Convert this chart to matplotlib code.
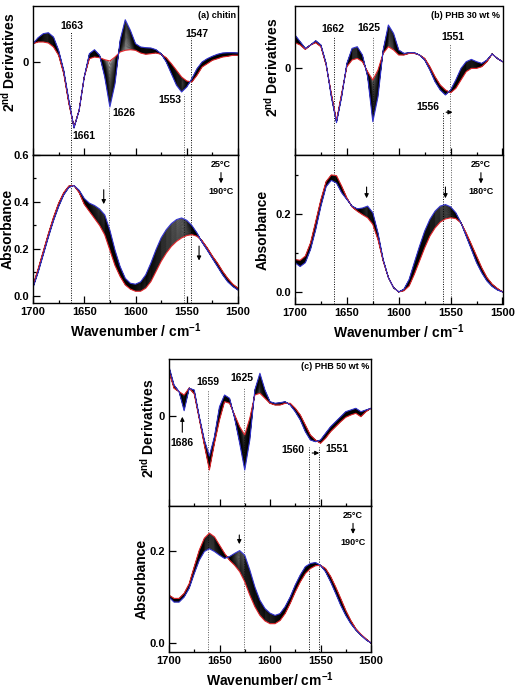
import numpy as np
import matplotlib
matplotlib.use("Agg")
import matplotlib.pyplot as plt
from matplotlib.ticker import MultipleLocator, FixedLocator

plt.rcParams['font.family'] = ['Liberation Sans', 'DejaVu Sans']
plt.rcParams['font.weight'] = 'bold'
plt.rcParams['axes.labelweight'] = 'bold'
plt.rcParams['mathtext.fontset'] = 'custom'
plt.rcParams['mathtext.rm'] = 'Liberation Sans:bold'
plt.rcParams['mathtext.bf'] = 'Liberation Sans:bold'
plt.rcParams['mathtext.it'] = 'Liberation Sans:bold'

# ---------------- data ----------------
WN = list(range(1700, 1499, -5))  # wavenumber grid (cm-1)

TEMPS_A = list(range(25, 195, 5))
TEMPS_B = list(range(25, 185, 5))
TEMPS_C = list(range(25, 195, 5))

# (a) chitin - second derivative (arb. units), 25 C (blue) and 190 C (red)
deriv_a_first = [1.83, 2.43, 2.83, 2.93, 2.5, 1.17, -0.83, -3.83, -6.6, -4.83, -1.5, 0.83, 1.23, 0.67,
                 -1.5, -4.5, -2.17, 2.17, 4.23, 3.17, 1.83, 1.5, 1.43, 1.4, 1.23, 0.83, 0.0, -1.17,
                 -2.33, -3.0, -2.5, -1.67, -0.67, 0.0, 0.33, 0.57, 0.77, 0.9, 0.93, 0.93, 0.9]
deriv_a_last = [1.83, 2.0, 2.0, 1.9, 1.5, 0.67, -1.17, -4.17, -6.5, -4.83, -1.5, 0.33, 0.5, 0.43,
                0.23, 0.1, 0.5, 1.0, 1.17, 1.23, 1.17, 0.9, 0.77, 0.83, 0.9, 0.77, 0.43, -0.17,
                -0.83, -1.5, -1.9, -2.0, -1.33, -0.5, -0.17, 0.17, 0.33, 0.5, 0.57, 0.67, 0.67]
# (a) chitin - absorbance
abs_a_first = [0.035, 0.10, 0.175, 0.25, 0.32, 0.38, 0.43, 0.462, 0.47, 0.45, 0.415, 0.395, 0.385,
               0.37, 0.345, 0.28, 0.195, 0.125, 0.075, 0.054, 0.05, 0.06, 0.09, 0.14, 0.197, 0.247,
               0.282, 0.308, 0.325, 0.332, 0.322, 0.30, 0.268, 0.228, 0.195, 0.16, 0.125, 0.09,
               0.06, 0.04, 0.025]
abs_a_last = [0.045, 0.115, 0.19, 0.265, 0.335, 0.395, 0.44, 0.468, 0.47, 0.44, 0.39, 0.36, 0.33,
              0.30, 0.26, 0.195, 0.13, 0.083, 0.047, 0.029, 0.02, 0.02, 0.033, 0.061, 0.104, 0.147,
              0.182, 0.211, 0.232, 0.247, 0.257, 0.261, 0.254, 0.235, 0.205, 0.17, 0.14, 0.105,
              0.075, 0.05, 0.033]

# (b) PHB 30 wt% - second derivative, 25 C and 180 C
deriv_b_first = [3.27, 2.6, 1.93, 2.27, 2.7, 2.27, 0.43, -2.9, -5.5, -2.9, 0.43, 1.93, 2.1, 1.27,
                 -0.9, -5.4, -2.9, 1.77, 4.27, 3.43, 1.77, 1.43, 1.5, 1.5, 1.27, 0.77, -0.23, -1.4,
                 -2.23, -2.73, -2.23, -1.23, -0.07, 0.6, 0.83, 0.6, 0.43, 0.77, 1.37, 0.93, 0.6]
deriv_b_last = [2.5, 2.27, 1.83, 2.27, 2.5, 2.1, 0.27, -2.57, -5.3, -2.57, 0.1, 0.77, 0.93, 0.6,
                -0.4, -1.23, -0.23, 1.43, 2.1, 1.77, 1.27, 1.27, 1.43, 1.43, 1.27, 0.93, 0.1, -0.9,
                -1.73, -2.23, -2.5, -2.07, -1.23, -0.4, -0.07, -0.07, 0.1, 0.6, 1.37, 0.93, 0.6]
# (b) absorbance
abs_b_first = [0.075, 0.065, 0.075, 0.109, 0.16, 0.22, 0.27, 0.286, 0.279, 0.254, 0.237, 0.22,
               0.213, 0.215, 0.22, 0.203, 0.151, 0.083, 0.037, 0.011, 0.0, 0.007, 0.032, 0.075,
               0.117, 0.156, 0.186, 0.207, 0.22, 0.224, 0.218, 0.203, 0.177, 0.143, 0.109, 0.075,
               0.049, 0.028, 0.014, 0.005, 0.0]
abs_b_last = [0.083, 0.081, 0.092, 0.126, 0.181, 0.237, 0.283, 0.30, 0.298, 0.271, 0.241, 0.218,
              0.207, 0.198, 0.19, 0.173, 0.134, 0.079, 0.037, 0.011, 0.0, 0.003, 0.015, 0.045,
              0.079, 0.113, 0.143, 0.164, 0.179, 0.187, 0.19, 0.188, 0.177, 0.151, 0.122, 0.092,
              0.062, 0.037, 0.02, 0.009, 0.0]

# (c) PHB 50 wt% - second derivative, 25 C and 190 C
deriv_c_first = [4.93, 3.1, 2.43, 0.53, 2.77, 2.6, -0.07, -2.4, -4.0, -2.07, 0.93, 2.1, 1.77,
                 -0.23, -2.73, -5.4, -2.4, 2.6, 4.27, 2.6, 1.43, 1.27, 1.33, 1.43, 1.1, 0.43, -0.4,
                 -1.57, -2.4, -2.57, -2.4, -1.73, -1.07, -0.57, -0.07, 0.43, 0.6, 0.77, 0.43, 0.6,
                 0.77]
deriv_c_last = [4.43, 2.77, 2.43, 2.1, 2.8, 2.2, -0.3, -2.9, -5.4, -2.73, -0.4, 1.43, 1.27, 0.1,
                -1.07, -1.9, -0.23, 2.1, 2.27, 1.77, 1.27, 1.1, 1.1, 1.27, 1.27, 0.77, 0.1, -0.9,
                -1.9, -2.4, -2.73, -2.23, -1.57, -1.07, -0.57, -0.13, 0.1, 0.27, -0.07, 0.43, 0.77]
# (c) absorbance
abs_c_first = [0.100, 0.089, 0.089, 0.100, 0.119, 0.151, 0.18, 0.199, 0.205, 0.199, 0.191, 0.184,
               0.188, 0.195, 0.201, 0.191, 0.159, 0.122, 0.093, 0.075, 0.065, 0.06, 0.064, 0.079,
               0.10, 0.126, 0.148, 0.166, 0.173, 0.175, 0.169, 0.155, 0.133, 0.108, 0.082, 0.06,
               0.042, 0.028, 0.017, 0.007, 0.0]
abs_c_last = [0.104, 0.097, 0.097, 0.108, 0.129, 0.166, 0.202, 0.228, 0.239, 0.231, 0.213, 0.195,
              0.18, 0.169, 0.155, 0.133, 0.104, 0.079, 0.06, 0.048, 0.042, 0.042, 0.049, 0.064,
              0.086, 0.111, 0.133, 0.151, 0.162, 0.168, 0.169, 0.162, 0.145, 0.122, 0.097, 0.071,
              0.049, 0.031, 0.019, 0.009, 0.0]

BLUE = '#3434d0'
RED = '#e3262b'

W, H = 517, 690
fig = plt.figure(figsize=(W / 100, H / 100), dpi=100)


def rect(x0, y0, x1, y1):
    return [x0 / W, 1 - y1 / H, (x1 - x0) / W, (y1 - y0) / H]


def family(ax, wn, first, last, temps):
    b = np.asarray(first, float)
    r = np.asarray(last, float)
    t0, t1 = temps[0], temps[-1]
    for T in temps[1:-1]:
        f = (T - t0) / (t1 - t0)
        ax.plot(wn, b + f * (r - b), color='black', lw=0.35)
    ax.plot(wn, r, color=RED, lw=0.8)
    ax.plot(wn, b, color=BLUE, lw=0.8)


def style(ax, top, ylim):
    ax.set_xlim(1700, 1500)
    ax.set_ylim(*ylim)
    ax.xaxis.set_major_locator(MultipleLocator(50))
    ax.xaxis.set_minor_locator(MultipleLocator(25))
    ax.tick_params(which='both', direction='in', top=False, right=False,
                   labelsize=8, pad=3)
    ax.tick_params(which='major', length=5, width=0.9)
    ax.tick_params(which='minor', length=2.5, width=0.9)
    for s in ax.spines.values():
        s.set_linewidth(1.0)
    if top:
        ax.tick_params(labelbottom=False)
        ax.yaxis.set_major_locator(FixedLocator([0]))
        ax.yaxis.set_minor_locator(FixedLocator([]))
    else:
        ax.yaxis.set_major_locator(MultipleLocator(0.2))
        ax.yaxis.set_minor_locator(MultipleLocator(0.1))
        ax.yaxis.set_major_formatter(plt.FuncFormatter(lambda v, p: f"{v:.1f}"))


def vline(ax, x, y0=None, color='black'):
    lo, hi = ax.get_ylim()
    ax.plot([x, x], [lo, hi if y0 is None else y0], color=color, lw=0.7, ls=(0, (1, 1.5)),
            zorder=0.5)


def temp_note(ax, xf, t_end):
    ax.text(xf, 0.935, '25°C', transform=ax.transAxes, ha='center', va='center', fontsize=6.5)
    ax.annotate('', xy=(xf, 0.79), xytext=(xf, 0.9), xycoords='axes fraction',
                arrowprops=dict(arrowstyle='-|>', color='black', lw=0.8, mutation_scale=6))
    ax.text(xf, 0.752, f'{t_end}°C', transform=ax.transAxes, ha='center', va='center',
            fontsize=6.5)


def down_arrow(ax, x, y0, y1):
    ax.annotate('', xy=(x, y1), xytext=(x, y0),
                arrowprops=dict(arrowstyle='-|>', color='black', lw=0.8, mutation_scale=6))


DER_LABEL = r'2$^{\mathbf{nd}}$ Derivatives'
XLAB = r'Wavenumber / cm$^{\mathbf{-1}}$'

# ---------------- panel (a) ----------------
ax1 = fig.add_axes(rect(33, 6, 238, 155))
ax2 = fig.add_axes(rect(33, 155, 238, 303))
style(ax1, True, (-9.3, 5.6))
style(ax2, False, (-0.03, 0.6))
family(ax1, WN, deriv_a_first, deriv_a_last, TEMPS_A)
family(ax2, WN, abs_a_first, abs_a_last, TEMPS_A)
vline(ax1, 1663, 3.0)
vline(ax1, 1626, -4.6, '0.35')
vline(ax1, 1553, -3.2, '0.35')
vline(ax1, 1546, 2.4)
for x, c in [(1663, 'black'), (1626, '0.35'), (1553, '0.35'), (1546, 'black')]:
    vline(ax2, x, None, c)
for txt, x, y in [('1663', 1662, 3.6), ('1661', 1650, -7.4), ('1626', 1611, -5.1),
                  ('1553', 1566, -3.8), ('1547', 1540, 2.8)]:
    ax1.text(x, y, txt, ha='center', va='center', fontsize=7.5)
ax1.text(0.99, 0.933, '(a) chitin', transform=ax1.transAxes, ha='right', va='center', fontsize=6.5)
temp_note(ax2, 0.917, 190)
down_arrow(ax2, 1631, 0.464, 0.379)
down_arrow(ax2, 1538, 0.224, 0.139)
ax1.set_ylabel(DER_LABEL, fontsize=10)
ax2.set_ylabel('Absorbance', fontsize=10)
ax1.yaxis.set_label_coords(-0.075, 0.62)
ax2.yaxis.set_label_coords(-0.09, 0.5)
ax2.set_xlabel(XLAB, fontsize=10, labelpad=3)

# ---------------- panel (b) ----------------
bx1 = fig.add_axes(rect(295, 6, 502.5, 155))
bx2 = fig.add_axes(rect(295, 155, 502.5, 304))
style(bx1, True, (-8.73, 6.17))
style(bx2, False, (-0.031, 0.351))
family(bx1, WN, deriv_b_first, deriv_b_last, TEMPS_B)
family(bx2, WN, abs_b_first, abs_b_last, TEMPS_B)
vline(bx1, 1662, 3.2)
vline(bx1, 1625, 3.2, '0.35')
vline(bx1, 1551, 2.4, '0.35')
vline(bx1, 1557, -4.4)
for x, c in [(1662, 'black'), (1625, '0.35'), (1557, 'black'), (1550, '0.35')]:
    vline(bx2, x, None, c)
for txt, x, y in [('1662', 1663.4, 3.9), ('1625', 1628.7, 3.97), ('1551', 1547.7, 3.07),
                  ('1556', 1572, -3.93)]:
    bx1.text(x, y, txt, ha='center', va='center', fontsize=7.5)
bx1.annotate('', xy=(1545.5, -4.45), xytext=(1557, -4.45),
             arrowprops=dict(arrowstyle='-|>', color='black', lw=0.8, mutation_scale=6))
bx1.text(0.988, 0.933, '(b) PHB 30 wt %', transform=bx1.transAxes, ha='right', va='center',
         fontsize=6.5)
temp_note(bx2, 0.896, 180)
down_arrow(bx2, 1631, 0.276, 0.233)
down_arrow(bx2, 1555, 0.276, 0.233)
bx1.set_ylabel(DER_LABEL, fontsize=10)
bx2.set_ylabel('Absorbance', fontsize=10)
bx1.yaxis.set_label_coords(-0.068, 0.59)
bx2.yaxis.set_label_coords(-0.12, 0.5)
bx2.set_xlabel(XLAB, fontsize=10, labelpad=3)

# ---------------- panel (c) ----------------
cx1 = fig.add_axes(rect(169, 359, 371, 506))
cx2 = fig.add_axes(rect(169, 506, 371, 652))
style(cx1, True, (-9.0, 5.7))
style(cx2, False, (-0.0196, 0.298))
family(cx1, WN, deriv_c_first, deriv_c_last, TEMPS_C)
family(cx2, WN, abs_c_first, abs_c_last, TEMPS_C)
vline(cx1, 1661, 2.6, '0.35')
vline(cx1, 1626, 2.9, '0.35')
vline(cx1, 1561, -3.1)
vline(cx1, 1551, -3.1)
for x, c in [(1661, '0.35'), (1626, '0.35'), (1561, 'black'), (1551, 'black')]:
    vline(cx2, x, None, c)
for txt, x, y in [('1659', 1661.4, 3.4), ('1625', 1627.7, 3.8), ('1686', 1687, -2.7),
                  ('1560', 1577, -3.4), ('1551', 1533.7, -3.3)]:
    cx1.text(x, y, txt, ha='center', va='center', fontsize=7.5)
cx1.annotate('', xy=(1686.8, 0.2), xytext=(1686.8, -1.9),
             arrowprops=dict(arrowstyle='-|>', color='black', lw=0.8, mutation_scale=6))
cx1.annotate('', xy=(1548.5, -3.7), xytext=(1561, -3.7),
             arrowprops=dict(arrowstyle='-|>', color='black', lw=0.8, mutation_scale=6))
cx1.text(0.99, 0.946, '(c) PHB 50 wt %', transform=cx1.transAxes, ha='right', va='center',
         fontsize=6.5)
temp_note(cx2, 0.911, 190)
down_arrow(cx2, 1630.4, 0.241, 0.209)
cx1.set_ylabel(DER_LABEL, fontsize=10)
cx2.set_ylabel('Absorbance', fontsize=10)
cx1.yaxis.set_label_coords(-0.06, 0.53)
cx2.yaxis.set_label_coords(-0.1, 0.5)
cx2.set_xlabel(r'Wavenumber/ cm$^{\mathbf{-1}}$', fontsize=10, labelpad=3)

fig.savefig('out.png', dpi=100)
